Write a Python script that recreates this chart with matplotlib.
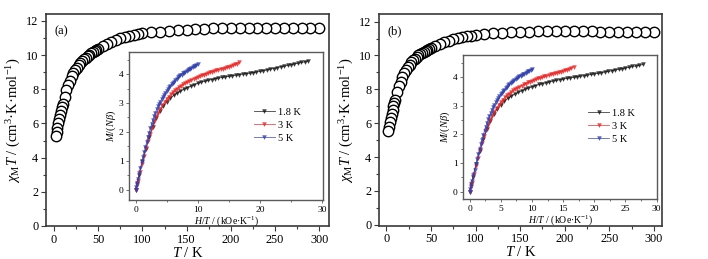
import numpy as np
import matplotlib
matplotlib.use("Agg")
import matplotlib.pyplot as plt
from matplotlib.ticker import MultipleLocator

plt.rcParams["font.family"] = ["Liberation Serif", "DejaVu Serif"]
plt.rcParams["mathtext.fontset"] = "custom"
plt.rcParams["mathtext.rm"] = "Liberation Serif"
plt.rcParams["mathtext.it"] = "Liberation Serif:italic"

# ── chi_M*T vs T ──
temp_K = [2, 3, 4, 5, 6, 7, 8, 9, 10, 12, 14, 16, 18, 20, 22, 24, 26, 28, 30,
          32, 34, 36, 38, 40, 42, 44, 46, 48, 50, 55, 60, 65, 70, 75, 80, 85,
          90, 95, 100, 110, 120, 130, 140, 150, 160, 170, 180, 190, 200, 210,
          220, 230, 240, 250, 260, 270, 280, 290, 300]
chiT_a = [5.27, 5.50, 5.75, 6.00, 6.25, 6.50, 6.75, 6.95, 7.15, 7.55, 7.95,
          8.25, 8.50, 8.75, 8.95, 9.12, 9.27, 9.40, 9.53, 9.64, 9.75, 9.85,
          9.94, 10.03, 10.10, 10.18, 10.25, 10.31, 10.37, 10.52, 10.66, 10.78,
          10.90, 10.98, 11.05, 11.12, 11.17, 11.22, 11.26, 11.32, 11.37, 11.42,
          11.46, 11.49, 11.52, 11.54, 11.56, 11.57, 11.58, 11.58, 11.59, 11.59,
          11.59, 11.59, 11.58, 11.58, 11.58, 11.57, 11.57]
chiT_b = [5.56, 5.80, 6.05, 6.30, 6.55, 6.80, 7.00, 7.20, 7.40, 7.85, 8.20,
          8.45, 8.72, 8.95, 9.13, 9.30, 9.45, 9.60, 9.72, 9.82, 9.91, 10.00,
          10.08, 10.15, 10.22, 10.28, 10.34, 10.39, 10.44, 10.57, 10.68, 10.78,
          10.87, 10.95, 11.02, 11.08, 11.13, 11.17, 11.20, 11.25, 11.30, 11.34,
          11.37, 11.39, 11.41, 11.42, 11.43, 11.43, 11.43, 11.43, 11.42, 11.42,
          11.41, 11.41, 11.40, 11.40, 11.39, 11.39, 11.38]

# ── M vs H/T (field in kOe, same sweep at each temperature) ──
field_kOe = [0, 0.5] + list(range(1, 51))
temps_M = [1.8, 3, 5]
labels_M = ["1.8 K", "3 K", "5 K"]
colors_M = ["#111111", "#ee2222", "#3040b0"]

M_a_18 = [0, 0.25, 0.50, 0.98, 1.42, 1.83, 2.18, 2.48, 2.72, 2.90, 3.04, 3.16,
          3.26, 3.34, 3.41, 3.47, 3.53, 3.58, 3.63, 3.68, 3.72, 3.75, 3.78,
          3.81, 3.84, 3.86, 3.88, 3.90, 3.92, 3.94, 3.96, 3.98, 4.00, 4.01,
          4.03, 4.05, 4.07, 4.09, 4.12, 4.14, 4.17, 4.19, 4.22, 4.25, 4.27,
          4.30, 4.32, 4.35, 4.37, 4.40, 4.42, 4.45]
M_a_3 = [0, 0.16, 0.31, 0.61, 0.90, 1.18, 1.45, 1.70, 1.93, 2.14, 2.33, 2.50,
         2.66, 2.80, 2.92, 3.03, 3.13, 3.22, 3.30, 3.37, 3.44, 3.50, 3.55,
         3.60, 3.65, 3.69, 3.73, 3.77, 3.80, 3.84, 3.87, 3.90, 3.93, 3.96,
         3.98, 4.01, 4.03, 4.06, 4.08, 4.10, 4.13, 4.15, 4.17, 4.19, 4.21,
         4.23, 4.25, 4.28, 4.30, 4.33, 4.36, 4.41]
M_a_5 = [0, 0.10, 0.19, 0.38, 0.57, 0.76, 0.95, 1.13, 1.31, 1.49, 1.66, 1.82,
         1.98, 2.13, 2.28, 2.42, 2.55, 2.67, 2.78, 2.88, 2.97, 3.05, 3.13,
         3.20, 3.27, 3.35, 3.42, 3.48, 3.54, 3.59, 3.65, 3.70, 3.74, 3.79,
         3.83, 3.88, 3.92, 3.95, 3.98, 4.02, 4.05, 4.08, 4.11, 4.13, 4.16,
         4.18, 4.21, 4.23, 4.26, 4.28, 4.31, 4.33]

M_b_18 = [0, 0.25, 0.50, 0.98, 1.42, 1.83, 2.18, 2.48, 2.72, 2.90, 3.04, 3.16,
          3.26, 3.34, 3.41, 3.47, 3.53, 3.58, 3.63, 3.67, 3.71, 3.75, 3.78,
          3.81, 3.84, 3.87, 3.89, 3.92, 3.94, 3.96, 3.98, 4.00, 4.02, 4.04,
          4.06, 4.08, 4.10, 4.12, 4.14, 4.16, 4.19, 4.21, 4.23, 4.26, 4.28,
          4.30, 4.33, 4.35, 4.38, 4.40, 4.42, 4.45]
M_b_3 = [0, 0.16, 0.31, 0.61, 0.90, 1.18, 1.45, 1.70, 1.93, 2.14, 2.33, 2.50,
         2.66, 2.80, 2.92, 3.03, 3.13, 3.22, 3.30, 3.37, 3.43, 3.49, 3.54,
         3.59, 3.63, 3.67, 3.71, 3.75, 3.78, 3.82, 3.85, 3.88, 3.91, 3.93,
         3.96, 3.98, 4.00, 4.03, 4.05, 4.07, 4.10, 4.12, 4.14, 4.16, 4.18,
         4.20, 4.22, 4.24, 4.27, 4.30, 4.33, 4.37]
M_b_5 = [0, 0.10, 0.19, 0.38, 0.57, 0.76, 0.95, 1.13, 1.31, 1.49, 1.66, 1.82,
         1.98, 2.13, 2.27, 2.40, 2.53, 2.65, 2.76, 2.86, 2.95, 3.04, 3.12,
         3.19, 3.26, 3.33, 3.40, 3.46, 3.52, 3.57, 3.62, 3.67, 3.72, 3.76,
         3.80, 3.84, 3.88, 3.91, 3.94, 3.97, 4.00, 4.03, 4.06, 4.08, 4.11,
         4.13, 4.16, 4.18, 4.21, 4.23, 4.26, 4.28]

W, H = 708, 259
SPINE_MAIN = "#3a3a3a"
SPINE_INS = "#5a5a5a"


def frac(x0, y0, x1, y1):
    return [x0 / W, 1 - y1 / H, (x1 - x0) / W, (y1 - y0) / H]


def style_main(ax, xlim, ylim):
    ax.set_xlim(*xlim)
    ax.set_ylim(*ylim)
    ax.xaxis.set_major_locator(MultipleLocator(50))
    ax.xaxis.set_minor_locator(MultipleLocator(25))
    ax.yaxis.set_major_locator(MultipleLocator(2))
    ax.yaxis.set_minor_locator(MultipleLocator(1))
    ax.tick_params(which="both", direction="out", top=False, right=False,
                   color=SPINE_MAIN, labelsize=8.8, width=0.8)
    ax.tick_params(which="major", length=3.5, pad=2)
    ax.tick_params(which="minor", length=2)
    for s in ax.spines.values():
        s.set_color(SPINE_MAIN)
        s.set_linewidth(1.2)
    ax.set_xlabel("$T$ / K", fontsize=10.5, labelpad=0)
    ax.set_ylabel(r"$\chi_{\rm M}T$ / (cm$^{3}$·K·mol$^{-1}$)", fontsize=10.5,
                  labelpad=2)


def style_inset(ax, ylim, xmajor):
    ax.set_xlim(-1, 30.1)
    ax.set_ylim(*ylim)
    ax.xaxis.set_major_locator(MultipleLocator(xmajor))
    ax.xaxis.set_minor_locator(MultipleLocator(5 if xmajor == 10 else 2.5))
    ax.yaxis.set_major_locator(MultipleLocator(1))
    ax.yaxis.set_minor_locator(MultipleLocator(0.5))
    ax.tick_params(which="both", direction="out", top=False, right=False,
                   color=SPINE_INS, labelsize=6.8, width=0.6)
    ax.tick_params(which="major", length=2.5, pad=1.5)
    ax.tick_params(which="minor", length=1.5)
    for s in ax.spines.values():
        s.set_color(SPINE_INS)
        s.set_linewidth(1.0)
    ax.set_xlabel("$H/T$ / (kOe·K$^{-1}$)", fontsize=7, labelpad=0.5)
    ax.set_ylabel("$M/(N\\beta)$", fontsize=7.5, labelpad=1)


def draw_panel(main_box, inset_box, chiT, M_sets, tag, main_xlim, main_ylim,
               ins_ylim, xmajor):
    ax = fig.add_axes(frac(*main_box))
    ax.plot(temp_K[::-1], chiT[::-1], "o", ms=7.5, mfc="white", mec="black",
            mew=1.0, ls="none")
    style_main(ax, main_xlim, main_ylim)
    ax.text(0.03, 0.92, tag, transform=ax.transAxes, fontsize=9,
            va="center", ha="left")

    ins = fig.add_axes(frac(*inset_box))
    ins.set_facecolor("white")
    for M, T, lab, col in zip(M_sets, temps_M, labels_M, colors_M):
        x = np.array(field_kOe) / T
        ins.plot(x, M, "-", color=col, lw=0.6, alpha=0.8, label=lab,
                 marker="v", ms=2.8, mfc=col, mec=col, mew=0.3)
    style_inset(ins, ins_ylim, xmajor)
    ins.legend(loc="center left", bbox_to_anchor=(0.645, 0.505), frameon=False,
               fontsize=7.5, handlelength=2.0, handletextpad=0.3,
               labelspacing=0.35, borderpad=0, borderaxespad=0)


fig = plt.figure(figsize=(W / 100, H / 100), dpi=100)
fig.patch.set_facecolor("white")

draw_panel((46, 14, 329, 226), (129.3, 52.3, 322.7, 200), chiT_a,
           [M_a_18, M_a_3, M_a_5], "(a)", (-9, 311), (0, 12.4),
           (-0.35, 4.75), 10)
draw_panel((379, 14, 662.3, 225.7), (463.3, 54.5, 657.3, 199), chiT_b,
           [M_b_18, M_b_3, M_b_5], "(b)", (-8.2, 309.3), (-0.05, 12.45),
           (-0.26, 4.8), 5)

fig.savefig("out.png", dpi=100, facecolor="white")
